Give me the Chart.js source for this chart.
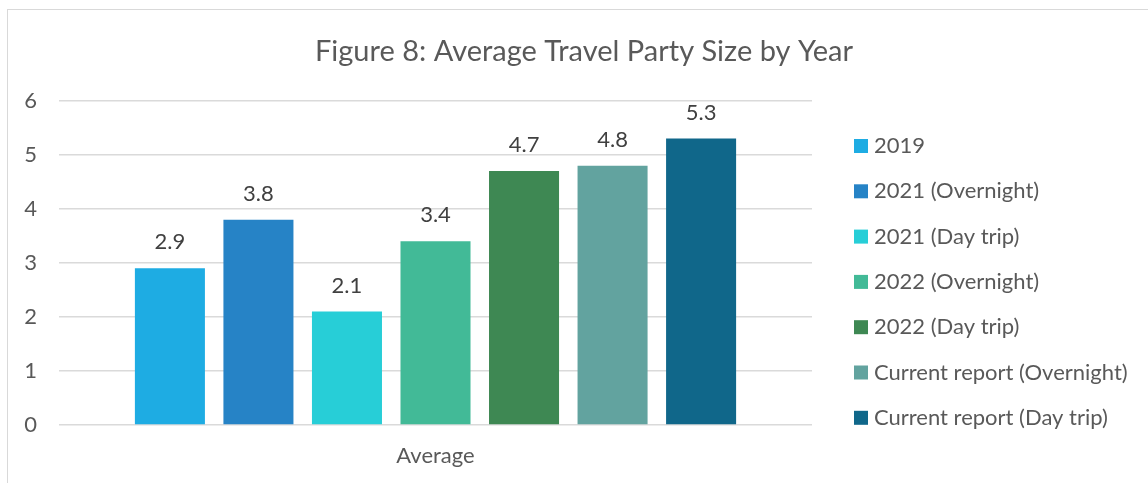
<!DOCTYPE html>
<html>
<head>
<meta charset="utf-8">
<title>Average Travel Party Size by Year</title>
<script src="https://cdn.jsdelivr.net/npm/chart.js@4"></script>
<style>
  html, body { margin: 0; padding: 0; background: #fff; }
  #frame {
    position: absolute; left: 7px; top: 9px;
    width: 1141px; height: 474px;
    border-left: 1px solid #d9d9d9; border-top: 1px solid #d9d9d9;
  }
  canvas { display: block; }
</style>
</head>
<body>
<div id="frame"><canvas id="chart" width="1140" height="473"></canvas></div>
<script>
// chart data
const categories = ["Average"];
const seriesNames = [
    "2019",
    "2021 (Overnight)",
    "2021 (Day trip)",
    "2022 (Overnight)",
    "2022 (Day trip)",
    "Current report (Overnight)",
    "Current report (Day trip)"
];
const seriesValues = [2.9, 3.8, 2.1, 3.4, 4.7, 4.8, 5.3];
const seriesColors = ["#1eace3", "#2683c6", "#27ced7", "#42ba97", "#3e8853", "#62a39f", "#10678a"];
const yTicks = [0, 1, 2, 3, 4, 5, 6];

const textGrey = "#595959";
const fontFamily = "Lato";
const fontSize = 22;

// legend column to the right of the plot
const legendWidth = 336;
const legendX = 846;
const legendTop = 136;
const legendStep = 45.3;
const legendBox = 14;

Chart.defaults.font.family = fontFamily;
Chart.defaults.color = textGrey;

// value written above each bar
const valueLabels = {
    id: "valueLabels",
    afterDatasetsDraw(chart) {
        const ctx = chart.ctx;
        ctx.save();
        ctx.font = `${fontSize}px ${fontFamily}`;
        ctx.fillStyle = "#404040";
        ctx.textAlign = "center";
        ctx.textBaseline = "alphabetic";
        chart.data.datasets.forEach((ds, i) => {
            chart.getDatasetMeta(i).data.forEach((bar, j) => {
                ctx.fillText(ds.data[j].toFixed(1), bar.x, bar.y - 19);
            });
        });
        ctx.restore();
    }
};

const sideLegend = {
    id: "sideLegend",
    afterDraw(chart) {
        const ctx = chart.ctx;
        ctx.save();
        ctx.font = `${fontSize}px ${fontFamily}`;
        ctx.textAlign = "left";
        ctx.textBaseline = "middle";
        chart.data.datasets.forEach((ds, i) => {
            const y = legendTop + i * legendStep;
            ctx.fillStyle = ds.backgroundColor;
            ctx.fillRect(legendX, y - legendBox / 2, legendBox, legendBox);
            ctx.fillStyle = textGrey;
            ctx.fillText(ds.label, legendX + 20, y);
        });
        ctx.restore();
    }
};

function draw() {
    const ctx = document.getElementById("chart");
    new Chart(ctx, {
        type: "bar",
        data: {
            labels: categories,
            datasets: seriesNames.map((name, i) => ({
                label: name,
                data: [seriesValues[i]],
                backgroundColor: seriesColors[i],
                categoryPercentage: 0.823,
                barPercentage: 0.791
            }))
        },
        options: {
            responsive: false,
            animation: false,
            devicePixelRatio: 1,
            layout: { padding: { left: 12, right: 0, top: 0, bottom: 0 } },
            plugins: {
                legend: { display: false },
                tooltip: { enabled: false },
                title: {
                    display: true,
                    text: "Figure 8: Average Travel Party Size by Year",
                    color: textGrey,
                    font: { size: 29, weight: "normal" },
                    padding: { top: 24, bottom: 32 }
                }
            },
            scales: {
                x: {
                    grid: { display: false },
                    border: { display: false },
                    ticks: { padding: 10, font: { size: fontSize } },
                    afterFit(scale) { scale.height = 58; }
                },
                y: {
                    min: yTicks[0],
                    max: yTicks[yTicks.length - 1],
                    ticks: { stepSize: yTicks[1] - yTicks[0], padding: 22, font: { size: fontSize } },
                    grid: { color: "#dadada", lineWidth: 1.5, drawTicks: false },
                    border: { display: false },
                    afterFit(scale) { scale.width = 39; }
                },
                // empty strip on the right that holds the legend
                legendSpace: {
                    type: "linear",
                    position: "right",
                    grid: { display: false },
                    border: { display: false },
                    ticks: { display: false },
                    afterFit(scale) { scale.width = legendWidth; }
                }
            }
        },
        plugins: [valueLabels, sideLegend]
    });
}

document.fonts.load(`${fontSize}px ${fontFamily}`).then(draw, draw);
</script>
</body>
</html>
